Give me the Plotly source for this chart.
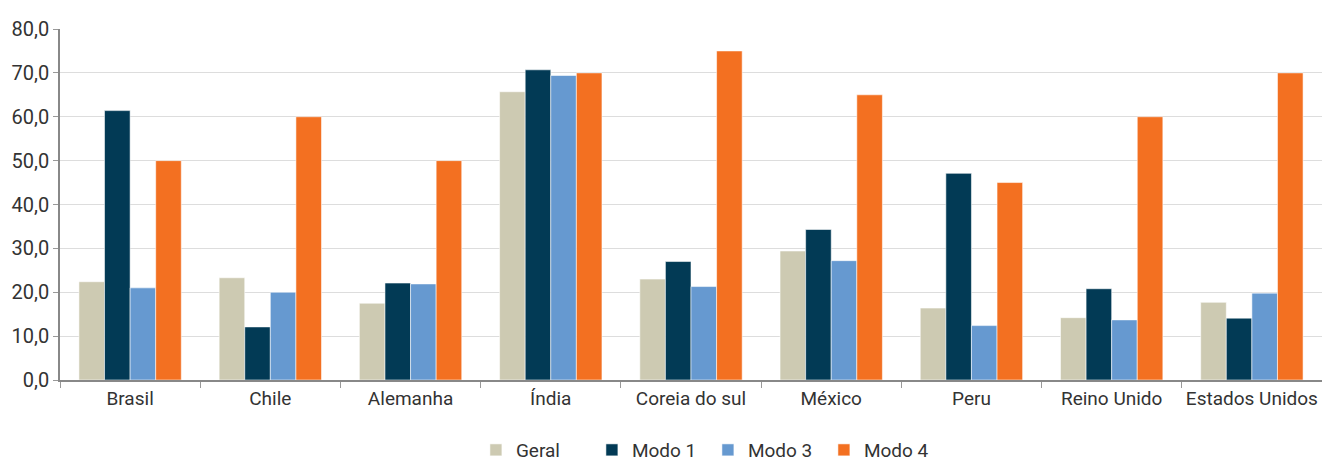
import plotly.graph_objects as go

paises = ["Brasil", "Chile", "Alemanha", "Índia", "Coreia do sul",
          "México", "Peru", "Reino Unido", "Estados Unidos"]

geral = [22.4, 23.3, 17.5, 65.7, 23.0, 29.4, 16.4, 14.2, 17.7]
modo1 = [61.4, 12.1, 22.1, 70.7, 27.0, 34.3, 47.1, 20.8, 14.1]
modo3 = [21.0, 20.0, 21.9, 69.4, 21.3, 27.2, 12.4, 13.7, 19.8]
modo4 = [50.0, 60.0, 50.0, 70.0, 75.0, 65.0, 45.0, 60.0, 70.0]

y_ticks = [0, 10, 20, 30, 40, 50, 60, 70, 80]
y_labels = ["0,0", "10,0", "20,0", "30,0", "40,0", "50,0", "60,0", "70,0", "80,0"]

series = [
    ("Geral", geral, "#CDCAB2"),
    ("Modo 1", modo1, "#023A55"),
    ("Modo 3", modo3, "#6699D0"),
    ("Modo 4", modo4, "#F37021"),
]

fig = go.Figure()
for nome, vals, cor in series:
    fig.add_trace(go.Bar(
        x=paises, y=vals, name=nome,
        marker=dict(color=cor, line=dict(color="rgba(255,255,255,0.55)", width=1)),
    ))

font_family = "Roboto, Arial, sans-serif"

fig.update_layout(
    width=1322, height=463,
    margin=dict(l=60, r=0, t=29, b=83, autoexpand=False),
    paper_bgcolor="white", plot_bgcolor="white",
    barmode="group", bargap=0.27, bargroupgap=0,
    font=dict(family=font_family, size=19, color="#333333"),
    showlegend=True,
    legend=dict(orientation="h", x=0.36, xref="container", xanchor="left",
                y=0.028, yref="container", yanchor="middle",
                font=dict(size=19, color="#333333"), entrywidth=71,
                itemwidth=30, traceorder="normal"),
    xaxis=dict(
        showgrid=False, showline=True, linecolor="#888888", linewidth=2,
        ticks="outside", tickson="boundaries", ticklen=6, tickcolor="#999999",
        tickfont=dict(size=19, color="#333333"), tickangle=0, automargin=False,
    ),
    yaxis=dict(
        range=[0, 80], tickvals=y_ticks, ticktext=y_labels,
        showgrid=True, gridcolor="#DDDDDD", gridwidth=1.3,
        showline=True, linecolor="#888888", linewidth=1.5,
        ticks="outside", ticklen=5, tickcolor="#999999",
        tickfont=dict(size=20, color="#333333"), zeroline=False, automargin=False,
    ),
)

fig.write_html("out.html")
